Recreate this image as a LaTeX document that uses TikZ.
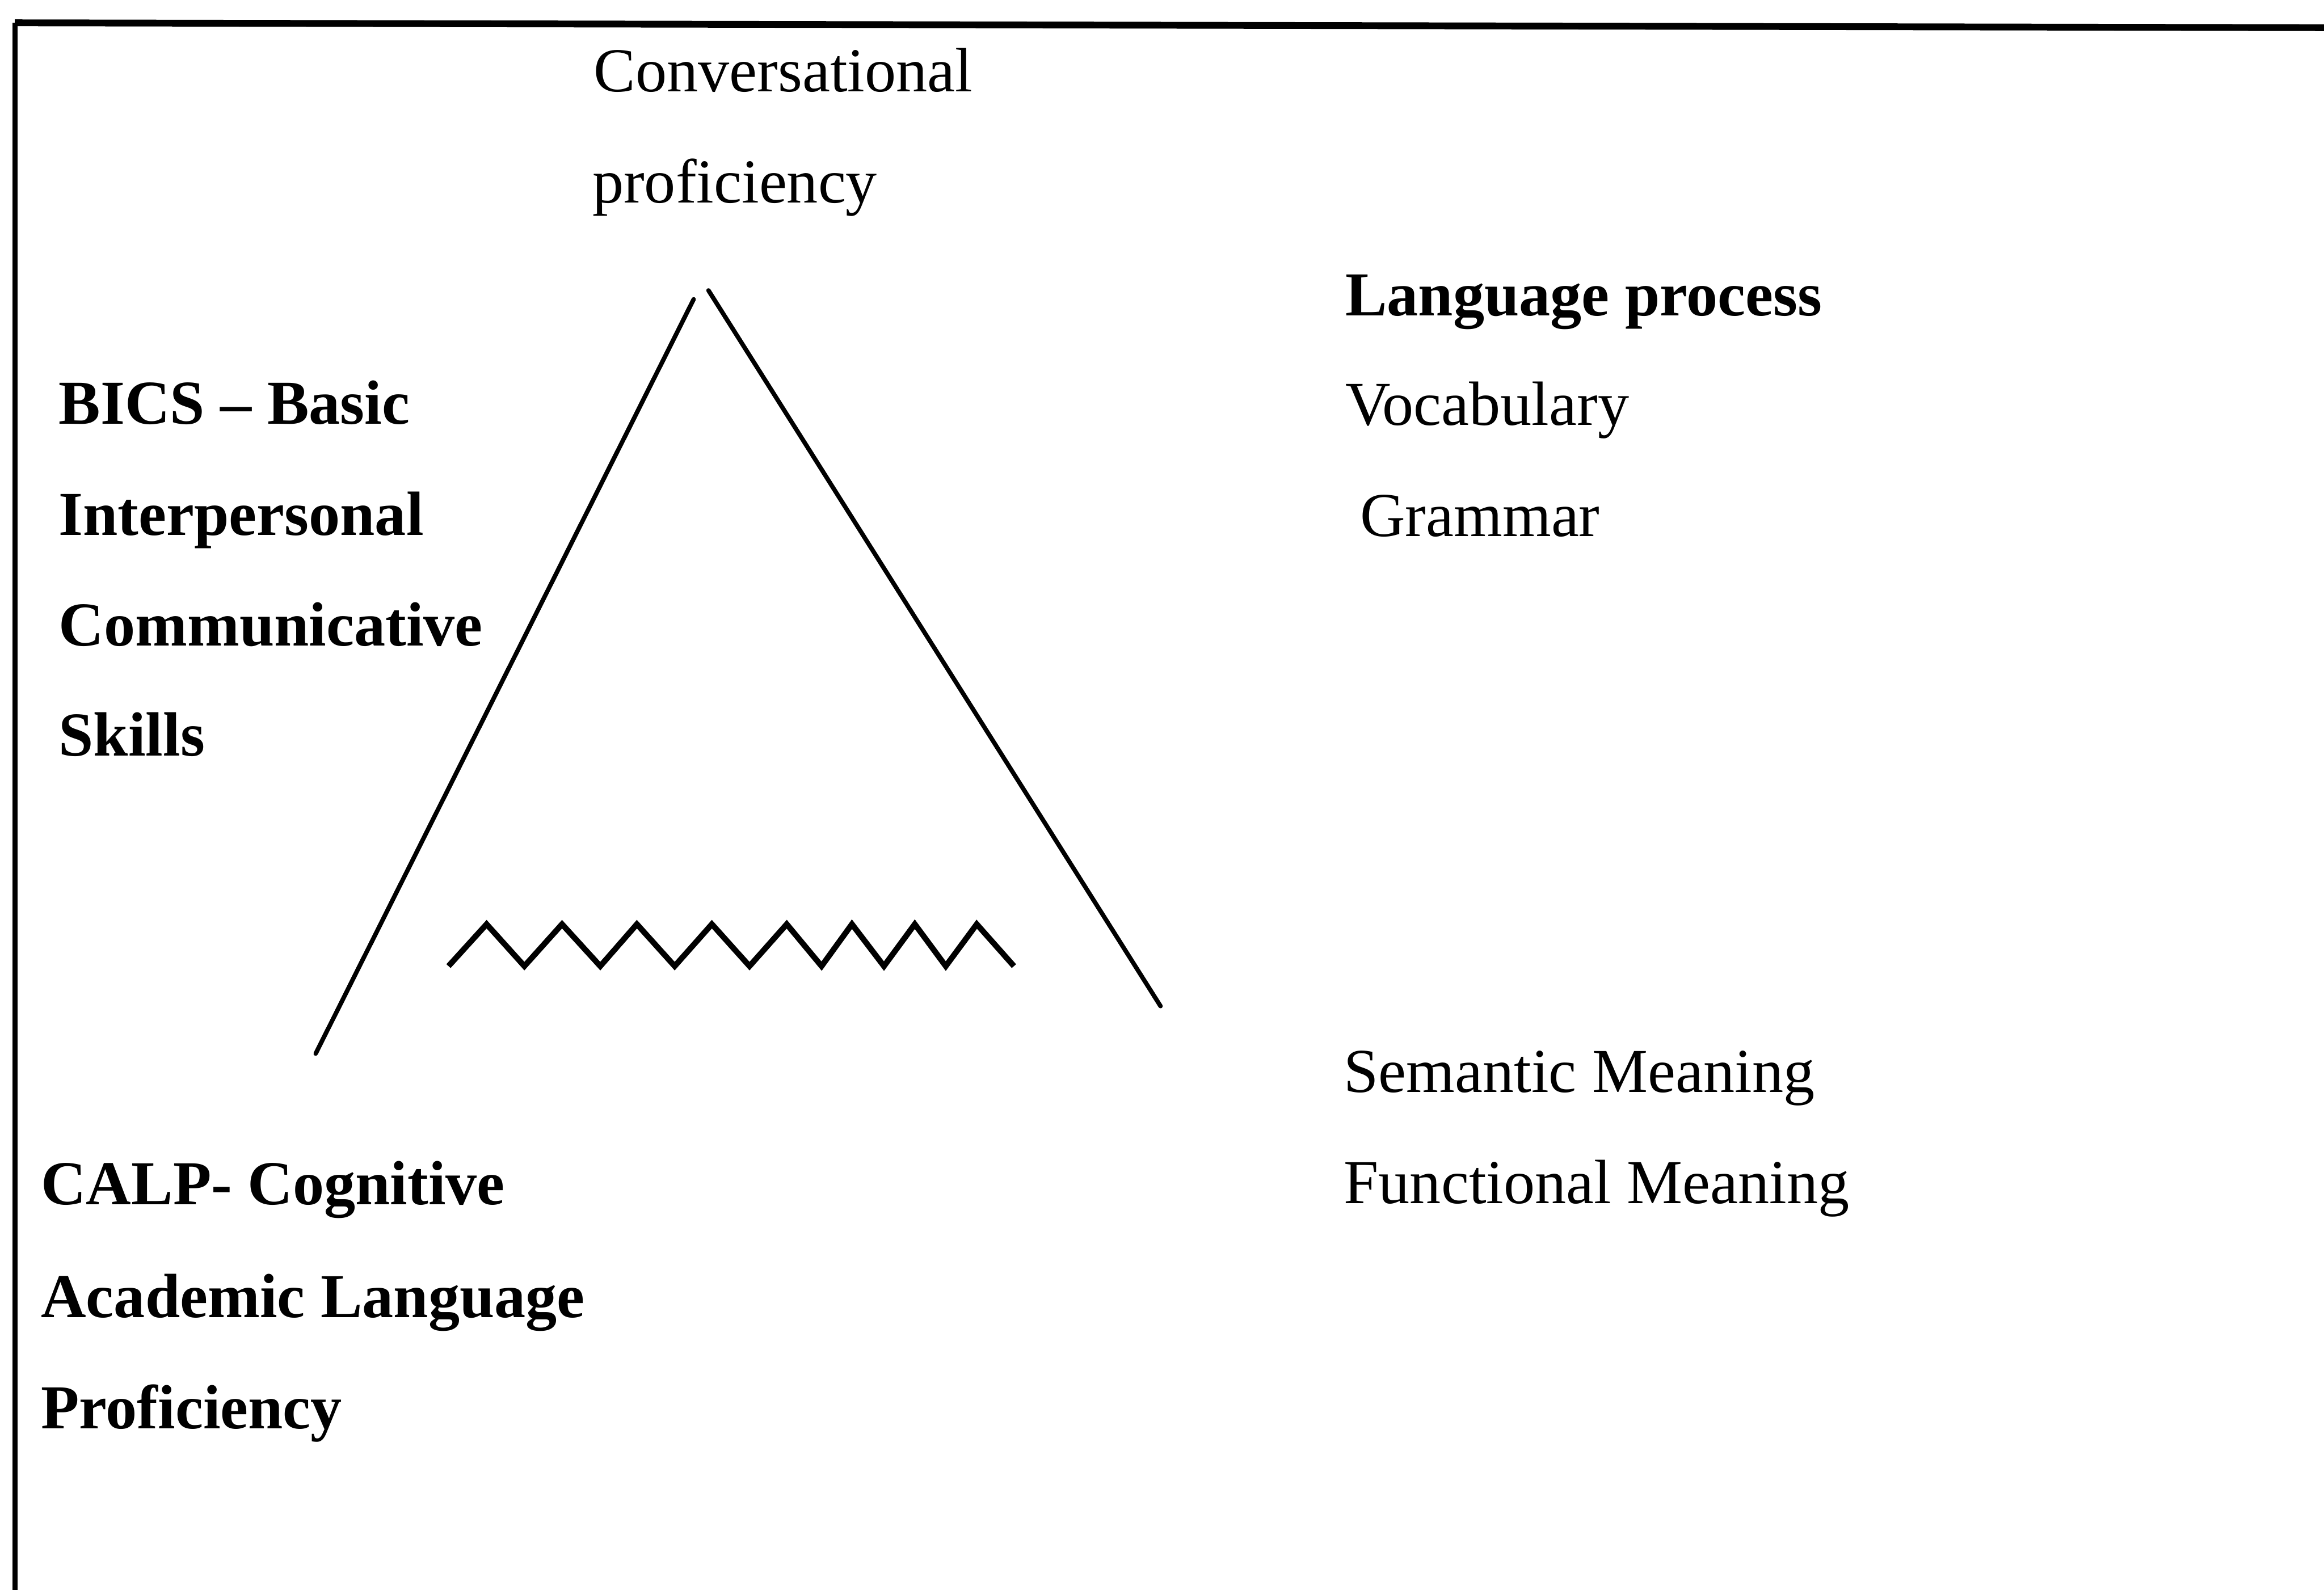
\documentclass[tikz,border=0pt]{standalone}
\usepackage{fontspec}
\setmainfont{Liberation Serif}
\usepackage{tikz}
\tikzset{
  lbl/.style={anchor=base west, inner sep=0pt, font=\fontsize{12}{14}\selectfont},
  blbl/.style={lbl, font=\fontsize{12}{14}\selectfont\bfseries},
  side/.style={draw=black, line width=0.85pt, line cap=round},
  zig/.style={draw=black, line width=1.1pt, line join=miter},
  frm/.style={draw=black, line width=1pt}
}

\begin{document}
\begin{tikzpicture}[x=0.2844pt, y=-0.2844pt]
    \useasboundingbox (0,0) rectangle (1568,1073);
    % frame (top and left only)
    \coordinate (fTL) at (10,15.4);
    \coordinate (fTR) at (1568,18.7);
    \coordinate (fBL) at (10,1073);
    \draw[frm, line width=1.3pt] (fTL) -- (fTR);
    \draw[frm] (fTL) -- (fBL);
    % triangle
    \coordinate (apL) at (468,202);
    \coordinate (apR) at (478,196);
    \coordinate (botL) at (213,711);
    \coordinate (botR) at (783,679);
    \draw[side] (apL) -- (botL);
    \draw[side] (apR) -- (botR);
    % zigzag
    \draw[zig] (302.6,652) -- (328.3,623.7) -- (353.8,652) -- (379.2,623.7)
      -- (405.0,652) -- (429.7,623.7) -- (455.2,652) -- (480.3,623.7)
      -- (505.7,652) -- (530.8,623.7) -- (554.3,652) -- (574.8,623.7)
      -- (596.4,652) -- (617.2,623.7) -- (638.1,652) -- (659.0,623.7)
      -- (684.1,652);
    % labels
    \node[lbl] (conv1) at (400,62) {Conversational};
    \node[lbl] (conv2) at (399,137) {proficiency};
    \node[blbl] (lp) at (907,213) {Language process};
    \node[lbl] (voc) at (907,287) {Vocabulary};
    \node[lbl] (gram) at (917,362) {Grammar};
    \node[blbl] (bics1) at (39,286) {BICS \textendash\ Basic};
    \node[blbl] (bics2) at (39,361) {Interpersonal};
    \node[blbl] (bics3) at (39,436) {Communicative};
    \node[blbl] (bics4) at (39,510) {Skills};
    \node[lbl] (sem) at (906,737) {Semantic Meaning};
    \node[lbl] (fun) at (906,812) {Functional Meaning};
    \node[blbl] (calp1) at (27,813) {CALP- Cognitive};
    \node[blbl] (calp2) at (27,889) {Academic Language};
    \node[blbl] (calp3) at (27,964) {Proficiency};
\end{tikzpicture}
\end{document}
